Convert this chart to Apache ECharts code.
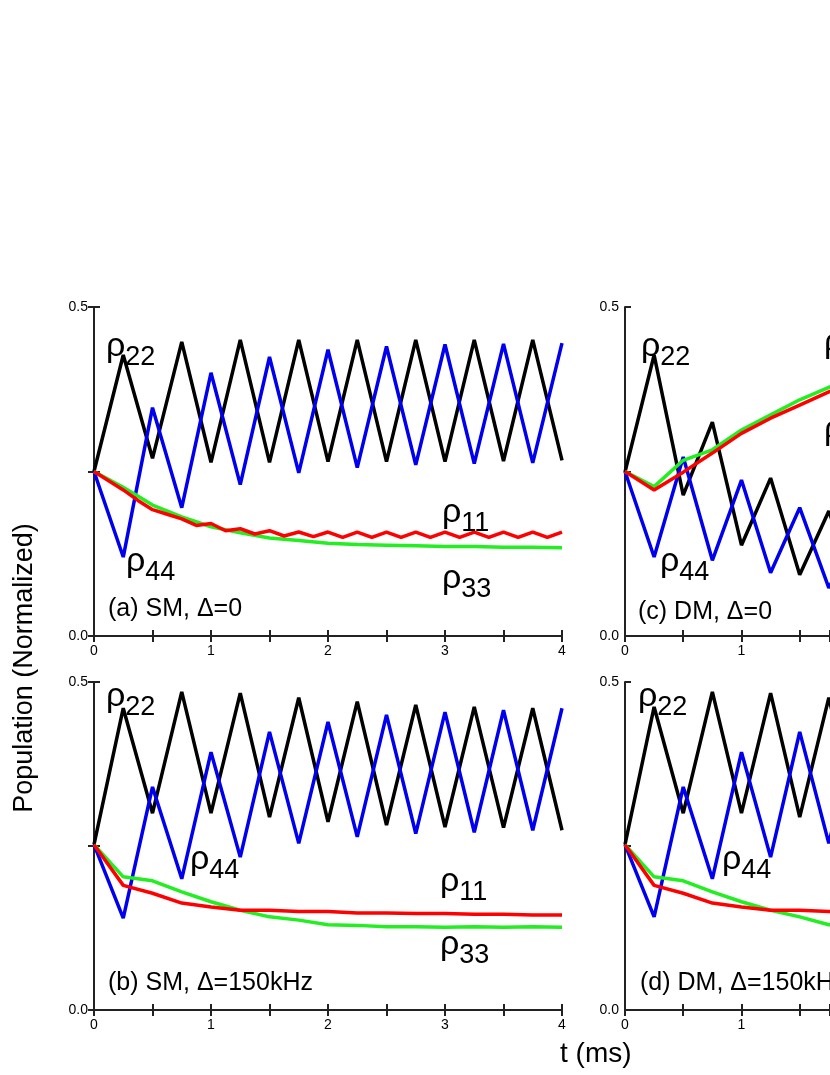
<!DOCTYPE html>
<html><head><meta charset="utf-8">
<script src="https://cdn.jsdelivr.net/npm/echarts@6/dist/echarts.min.js"></script>
<style>html,body{margin:0;padding:0;background:#fff}#c{width:830px;height:1075px}</style>
</head><body><div id="c"></div>
<script>
// Time grids
const tQuarter = [0,0.25,0.5,0.75,1,1.25,1.5,1.75,2,2.25,2.5,2.75,3,3.25,3.5,3.75,4];
const tEighth = [0,0.125,0.25,0.375,0.5,0.625,0.75,0.875,1,1.125,1.25,1.375,1.5,1.625,1.75,1.875,2,2.125,2.25,2.375,2.5,2.625,2.75,2.875,3,3.125,3.25,3.375,3.5,3.625,3.75,3.875,4];
const tC = [0,0.25,0.5,0.75,1,1.25,1.5,1.75,2];
// Panel (a) SM, Δ=0
const a_rho22 = [0.25,0.427,0.27,0.447,0.264,0.45,0.264,0.45,0.265,0.45,0.265,0.45,0.265,0.45,0.266,0.45,0.267];
const a_rho44 = [0.25,0.12,0.347,0.195,0.40,0.23,0.424,0.248,0.435,0.256,0.44,0.26,0.443,0.262,0.444,0.263,0.445];
const a_rho11 = [0.25,0.236,0.222,0.206,0.192,0.185,0.178,0.168,0.171,0.160,0.163,0.155,0.160,0.152,0.158,0.151,0.158,0.150,0.158,0.150,0.158,0.150,0.158,0.150,0.158,0.150,0.158,0.150,0.158,0.150,0.158,0.150,0.158];
const a_rho33 = [0.25,0.226,0.199,0.181,0.166,0.157,0.149,0.145,0.141,0.139,0.138,0.137,0.136,0.136,0.135,0.135,0.134];
// Panel (b) SM, Δ=150kHz
const b_rho22 = [0.252,0.46,0.30,0.485,0.30,0.483,0.294,0.476,0.287,0.47,0.282,0.465,0.279,0.462,0.278,0.46,0.274];
const b_rho44 = [0.252,0.14,0.34,0.20,0.393,0.233,0.424,0.254,0.439,0.264,0.45,0.269,0.454,0.271,0.457,0.274,0.46];
const b_rho11 = [0.252,0.19,0.178,0.163,0.157,0.152,0.152,0.150,0.150,0.148,0.148,0.147,0.147,0.146,0.146,0.145,0.145];
const b_rho33 = [0.252,0.203,0.197,0.180,0.165,0.152,0.142,0.137,0.130,0.129,0.127,0.127,0.126,0.127,0.126,0.127,0.126];
// Panel (c) DM, Δ=0
const c_rho22 = [0.249,0.427,0.214,0.325,0.138,0.24,0.093,0.19,0.06];
const c_rho44 = [0.25,0.12,0.272,0.115,0.237,0.096,0.195,0.073,0.16];
const c_rho11 = [0.25,0.222,0.249,0.278,0.308,0.331,0.351,0.371,0.388];
const c_rho33 = [0.25,0.227,0.267,0.283,0.313,0.336,0.359,0.378,0.393];
// Panel (d) DM, Δ=150kHz
const d_rho22 = [0.252,0.462,0.30,0.485,0.30,0.483,0.294,0.476,0.287,0.47,0.282,0.465,0.279,0.462,0.278,0.46,0.274];
const d_rho44 = [0.252,0.142,0.34,0.20,0.393,0.233,0.424,0.254,0.439,0.264,0.45,0.269,0.454,0.271,0.457,0.274,0.46];
const d_rho11 = [0.252,0.19,0.178,0.163,0.157,0.152,0.152,0.150,0.150,0.148,0.148,0.147,0.147,0.146,0.146,0.145,0.145];
const d_rho33 = [0.252,0.203,0.197,0.180,0.165,0.152,0.142,0.130,0.125,0.124,0.123,0.123,0.122,0.122,0.122,0.122,0.122];
const xTickLabels = ['0','1','2','3','4'];
const yTickLabels = ['0.0','0.5'];

const FONT = 'Liberation Sans, Arial, sans-serif';
// right-hand panels are cut by the page edge: visible range 0..1.76 ms
const grids = [
  {left:94, top:307, width:468, height:329, xmax:4, full:true},
  {left:94, top:682, width:468, height:328, xmax:4, full:true},
  {left:625, top:307, width:206, height:329, xmax:1.76, full:false},
  {left:625, top:682, width:206, height:328, xmax:1.76, full:false}
];
const xAxis=[], yAxis=[], series=[];
const lineStyle = {color:'#222', width:2};
grids.forEach((g,i)=>{
  xAxis.push({gridIndex:i,type:'value',min:0,max:g.xmax,interval:1,position:'bottom',
    axisLine:{lineStyle}, axisTick:{inside:true,length:6,lineStyle},
    minorTick:{show:true,splitNumber:2,length:6,lineStyle},
    axisLabel:{color:'#000',fontFamily:FONT,fontSize:14,margin:8,showMaxLabel:g.full,formatter:v=>xTickLabels[Math.round(v)]||''},
    splitLine:{show:false}});
  xAxis.push({gridIndex:i,type:'value',min:0,max:g.xmax,interval:1,position:'top',
    axisLine:{lineStyle}, axisTick:{inside:true,length:6,lineStyle},
    minorTick:{show:true,splitNumber:2,length:6,lineStyle},
    axisLabel:{show:false}, splitLine:{show:false}});
  yAxis.push({gridIndex:i,type:'value',min:0,max:0.5,interval:0.5,position:'left',
    axisLine:{lineStyle}, axisTick:{inside:true,length:6,lineStyle},
    minorTick:{show:true,splitNumber:2,length:6,lineStyle},
    axisLabel:{color:'#000',fontFamily:FONT,fontSize:14,margin:6,formatter:v=>yTickLabels[Math.round(v*2)]},
    splitLine:{show:false}});
  yAxis.push({gridIndex:i,type:'value',min:0,max:0.5,interval:0.5,position:'right',show:g.full,
    axisLine:{lineStyle}, axisTick:{inside:true,length:6,lineStyle},
    minorTick:{show:true,splitNumber:2,length:6,lineStyle},
    axisLabel:{show:false}, splitLine:{show:false}});
});
function add(i, ts, vs, color){
  series.push({type:'line', xAxisIndex:2*i, yAxisIndex:2*i, showSymbol:false, symbol:'none', clip:true,
    lineStyle:{color, width:3.5}, data: ts.map((t,k)=>[t,vs[k]]), animation:false, z:3});
}
const BLK='#000', BLU='#0000ee', RED='#ff0000', GRN='#22ee22';
add(0,tQuarter,a_rho22,BLK); add(0,tQuarter,a_rho44,BLU); add(0,tQuarter,a_rho33,GRN); add(0,tEighth,a_rho11,RED);
add(1,tQuarter,b_rho22,BLK); add(1,tQuarter,b_rho44,BLU); add(1,tQuarter,b_rho33,GRN); add(1,tQuarter,b_rho11,RED);
add(2,tC,c_rho22,BLK); add(2,tC,c_rho44,BLU); add(2,tC,c_rho33,GRN); add(2,tC,c_rho11,RED);
add(3,tQuarter,d_rho22,BLK); add(3,tQuarter,d_rho44,BLU); add(3,tQuarter,d_rho33,GRN); add(3,tQuarter,d_rho11,RED);

const rich = {r:{fontSize:34,fontFamily:FONT,color:'#000'}, s:{fontSize:27,fontFamily:FONT,color:'#000',verticalAlign:'bottom',padding:[22,0,0,0]}};
function rho(x,y,sub){ return {type:'text', left:x, top:y, z:10, style:{text:'{r|ρ}{s|'+sub+'}', rich}}; }
function lab(x,y,t){ return {type:'text', left:x, top:y, z:10, style:{text:t, fontSize:25, fontFamily:FONT, fill:'#000'}}; }
const graphic = [
  rho(106,330,'22'), rho(126,545,'44'), rho(442,496,'11'), rho(442,562,'33'), lab(108,597,'(a) SM, Δ=0'),
  rho(106,680,'22'), rho(190,843,'44'), rho(440,865,'11'), rho(440,928,'33'), lab(108,971,'(b) SM, Δ=150kHz'),
  rho(641,330,'22'), rho(660,545,'44'), rho(824,326,'33'), rho(824,413,'11'), lab(638,600,'(c) DM, Δ=0'),
  rho(638,680,'22'), rho(722,843,'44'), lab(640,971,'(d) DM, Δ=150kHz'),
  {type:'text', left:560, top:1040, style:{text:'t (ms)', fontSize:28, fontFamily:FONT, fill:'#000'}},
  {type:'text', x:25, y:668, rotation:Math.PI/2, style:{text:'Population (Normalized)', fontSize:27, fontFamily:FONT, fill:'#000', align:'center', verticalAlign:'middle'}}
];
const chart = echarts.init(document.getElementById('c'), null, {renderer:'canvas'});
chart.setOption({animation:false, grid:grids.map(g=>({left:g.left,top:g.top,width:g.width,height:g.height})), xAxis, yAxis, series, graphic});
</script></body></html>
